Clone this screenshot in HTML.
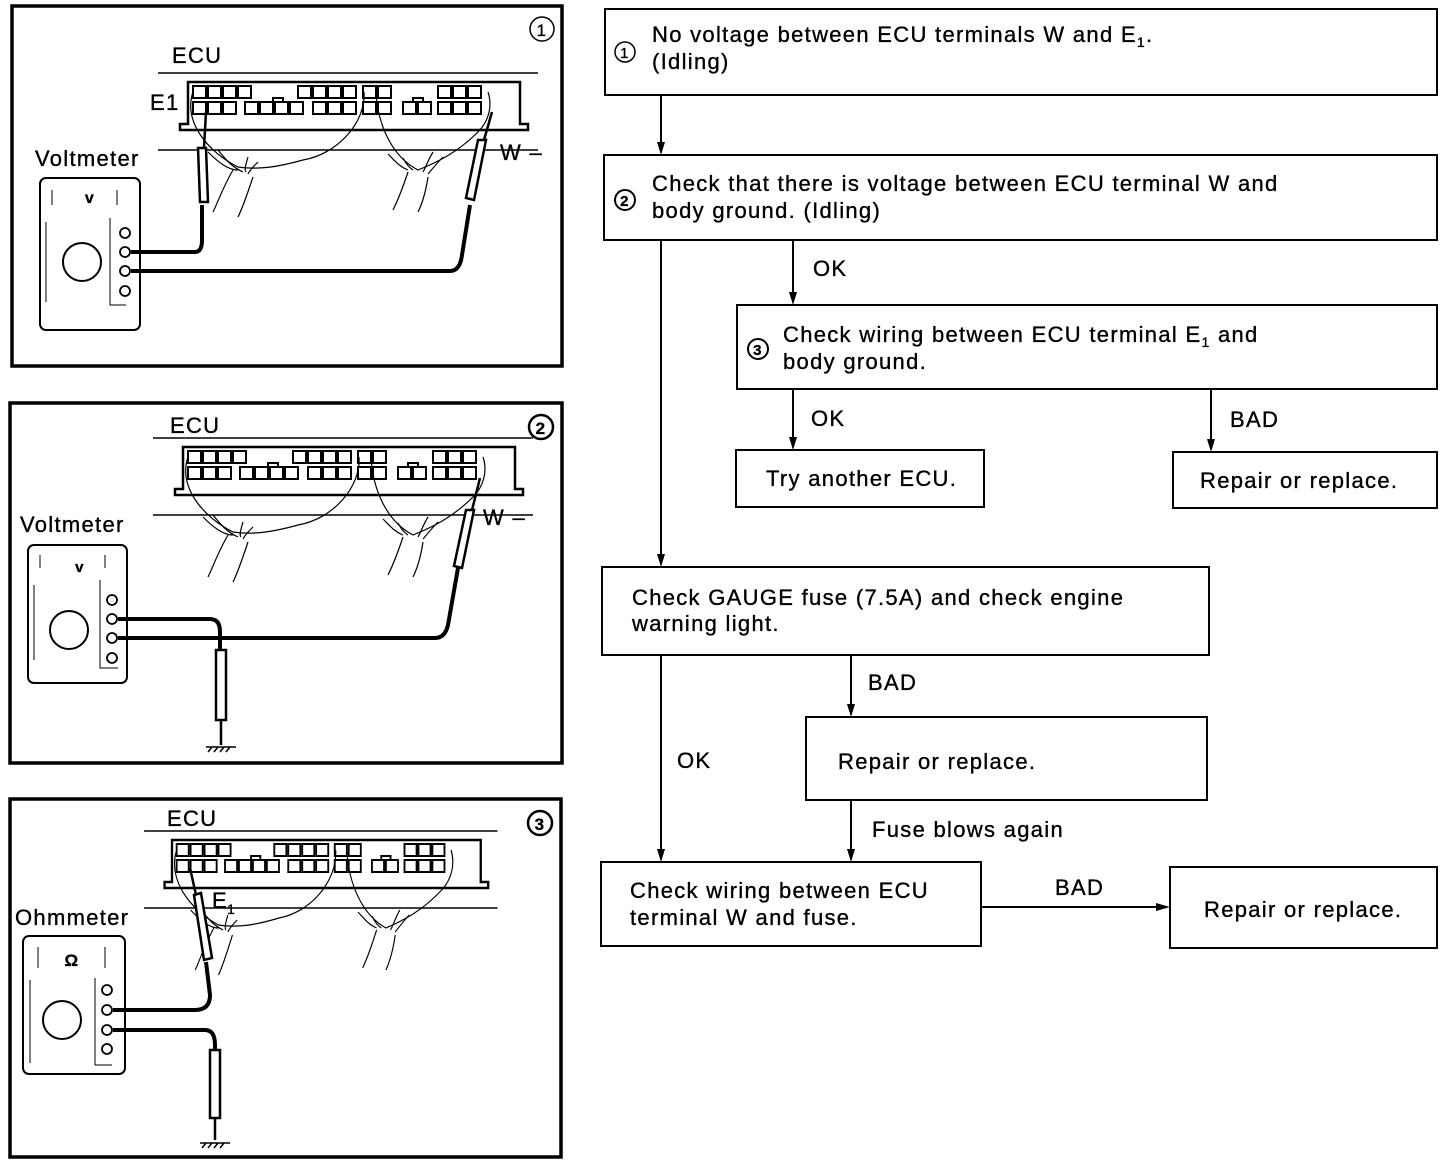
<!DOCTYPE html>
<html><head><meta charset="utf-8"><style>
html,body{margin:0;padding:0;background:#fff}
svg{display:block}
text{font-family:"Liberation Sans",sans-serif;fill:#000;letter-spacing:1.3px;stroke:#000;stroke-width:0.35px}
</style></head><body>
<svg width="1456" height="1164" viewBox="0 0 1456 1164" xmlns="http://www.w3.org/2000/svg">
<defs>
<g id="conn" fill="none" stroke="#000">
  <line x1="-30" y1="-9" x2="350" y2="-9" stroke-width="1.5"/>
  <line x1="-30" y1="68" x2="350" y2="68" stroke-width="1.5"/>
  <path d="M0 0 H332 V42 H340 V48 H-8 V42 H0 Z" stroke-width="2.5" fill="#fff"/>
  <g stroke-width="2">
    <rect x="5" y="4" width="13" height="12"/><rect x="20" y="4" width="13" height="12"/><rect x="35" y="4" width="13" height="12"/><rect x="50" y="4" width="13" height="12"/>
    <rect x="110" y="4" width="13" height="12"/><rect x="125" y="4" width="13" height="12"/><rect x="140" y="4" width="13" height="12"/><rect x="155" y="4" width="13" height="12"/>
    <rect x="175" y="4" width="13" height="12"/><rect x="190" y="4" width="13" height="12"/>
    <rect x="250" y="4" width="13" height="12"/><rect x="265" y="4" width="13" height="12"/><rect x="280" y="4" width="13" height="12"/>
    <rect x="5" y="20" width="13" height="12"/><rect x="20" y="20" width="13" height="12"/><rect x="35" y="20" width="13" height="12"/>
    <rect x="57" y="20" width="13" height="12"/><rect x="72" y="20" width="13" height="12"/><rect x="87" y="20" width="13" height="12"/><rect x="102" y="20" width="13" height="12"/>
    <rect x="125" y="20" width="13" height="12"/><rect x="140" y="20" width="13" height="12"/><rect x="155" y="20" width="13" height="12"/>
    <rect x="175" y="20" width="13" height="12"/><rect x="190" y="20" width="13" height="12"/>
    <rect x="215" y="20" width="13" height="12"/><rect x="230" y="20" width="13" height="12"/>
    <rect x="250" y="20" width="13" height="12"/><rect x="265" y="20" width="13" height="12"/><rect x="280" y="20" width="13" height="12"/>
    <path d="M85 20 V16 H95 V20 M225 20 V16 H235 V20"/>
  </g>
  <g stroke-width="1.2">
    <path d="M5 10 C-5 40 20 70 50 85 C70 88 90 85 115 78 C150 72 178 40 176 10"/>
    <path d="M188 10 C190 45 205 75 230 88 C250 80 270 70 290 50 C300 40 305 25 300 10"/>
    <path d="M20 70 C30 80 40 88 50 88 M30 68 C38 78 44 85 55 90 M60 75 C58 82 56 88 58 90 M70 80 C65 85 62 88 60 92"/>
    <path d="M200 72 C208 80 212 85 220 88 M215 76 C218 82 222 86 225 88 M245 70 C240 78 238 85 235 90 M255 75 C250 80 245 86 240 92"/>
    <path d="M45 88 C35 105 30 120 25 130 M65 95 C60 110 55 125 50 135"/>
    <path d="M220 90 C215 105 210 118 205 128 M240 95 C238 108 235 120 230 130"/>
  </g>
</g>
</defs>

<!-- Panel 1 -->
<rect x="12" y="6" width="550" height="360" fill="none" stroke="#000" stroke-width="3.5"/>
<circle cx="542" cy="29" r="12" fill="none" stroke="#000" stroke-width="1.5"/>
<text x="542" y="36" font-size="17" text-anchor="middle">1</text>
<text x="172" y="63" font-size="22">ECU</text>
<use href="#conn" transform="translate(188,82)"/>
<text x="150" y="110" font-size="22">E1</text>
<text x="500" y="160" font-size="22">W –</text>
<text x="35" y="166" font-size="22">Voltmeter</text>
<rect x="40" y="178" width="100" height="152" rx="6" fill="none" stroke="#000" stroke-width="2"/>
<path d="M52 190 V205 M117 190 V205 M46 222 V302 M110 218 V305 H126" fill="none" stroke="#000" stroke-width="1"/>
<text x="90" y="203" font-size="16" font-weight="bold" text-anchor="middle">v</text>
<circle cx="82" cy="262" r="19" fill="none" stroke="#000" stroke-width="2"/>
<g fill="none" stroke="#000" stroke-width="1.8"><circle cx="125" cy="233" r="5"/><circle cx="125" cy="252" r="5"/><circle cx="125" cy="271" r="5"/><circle cx="125" cy="291" r="5"/></g>
<path d="M131 252 H195 Q202 252 202 240 V205" fill="none" stroke="#000" stroke-width="4"/>
<path d="M131 271 H450 Q460 271 462 255 L470 205" fill="none" stroke="#000" stroke-width="4"/>
<path d="M198 148 L206 148 L208 202 L200 202 Z M204 148 L206 112" fill="#fff" stroke="#000" stroke-width="2.5"/>
<path d="M478 140 L486 140 L474 200 L466 198 Z M484 140 L492 112" fill="#fff" stroke="#000" stroke-width="2.5"/>

<!-- Panel 2 -->
<rect x="10" y="403" width="552" height="360" fill="none" stroke="#000" stroke-width="3.5"/>
<circle cx="541" cy="427" r="12" fill="none" stroke="#000" stroke-width="2.5"/>
<text x="541" y="434" font-size="17" font-weight="bold" text-anchor="middle">2</text>
<text x="170" y="433" font-size="22">ECU</text>
<use href="#conn" transform="translate(183,447)"/>
<text x="483" y="525" font-size="22">W –</text>
<text x="20" y="532" font-size="22">Voltmeter</text>
<rect x="28" y="545" width="99" height="138" rx="6" fill="none" stroke="#000" stroke-width="2"/>
<path d="M40 555 V568 M105 555 V568 M34 585 V660 M100 580 V668 H118" fill="none" stroke="#000" stroke-width="1"/>
<text x="80" y="572" font-size="15" font-weight="bold" text-anchor="middle">v</text>
<circle cx="69" cy="630" r="19" fill="none" stroke="#000" stroke-width="2"/>
<g fill="none" stroke="#000" stroke-width="1.8"><circle cx="112" cy="600" r="5"/><circle cx="112" cy="619" r="5"/><circle cx="112" cy="638" r="5"/><circle cx="112" cy="658" r="5"/></g>
<path d="M118 619 H210 Q220 619 220 632 V650" fill="none" stroke="#000" stroke-width="4"/>
<path d="M118 638 H435 Q445 638 448 625 L458 568" fill="none" stroke="#000" stroke-width="4"/>
<path d="M216 650 H226 V720 H216 Z M221 720 V745" fill="#fff" stroke="#000" stroke-width="2.5"/>
<path d="M206 747 H236 M208 752 L212 747 M214 752 L218 747 M220 752 L224 747 M226 752 L230 747" stroke="#000" stroke-width="1.5"/>
<path d="M466 510 L474 510 L462 568 L454 566 Z M472 510 L480 478" fill="#fff" stroke="#000" stroke-width="2.5"/>

<!-- Panel 3 -->
<rect x="10" y="799" width="551" height="358" fill="none" stroke="#000" stroke-width="3.5"/>
<circle cx="540" cy="823" r="12" fill="none" stroke="#000" stroke-width="2.5"/>
<text x="540" y="830" font-size="17" font-weight="bold" text-anchor="middle">3</text>
<text x="167" y="826" font-size="22">ECU</text>
<use href="#conn" transform="translate(172,840) scale(0.93,1)"/>
<text x="212" y="908" font-size="22">E</text><text x="227" y="914" font-size="14">1</text>
<text x="15" y="925" font-size="22">Ohmmeter</text>
<rect x="23" y="936" width="102" height="138" rx="6" fill="none" stroke="#000" stroke-width="2"/>
<path d="M38 947 V968 M105 947 V968 M30 980 V1063 M95 978 V1065 H112" fill="none" stroke="#000" stroke-width="1"/>
<text x="72" y="966" font-size="17" font-weight="bold" text-anchor="middle">Ω</text>
<circle cx="62" cy="1020" r="19" fill="none" stroke="#000" stroke-width="2"/>
<g fill="none" stroke="#000" stroke-width="1.8"><circle cx="107" cy="990" r="5"/><circle cx="107" cy="1010" r="5"/><circle cx="107" cy="1030" r="5"/><circle cx="107" cy="1049" r="5"/></g>
<path d="M113 1010 H195 Q210 1010 210 995 L206 962" fill="none" stroke="#000" stroke-width="4"/>
<path d="M113 1030 H205 Q215 1030 215 1045 V1050" fill="none" stroke="#000" stroke-width="4"/>
<path d="M194 895 L201 893 L212 958 L204 960 Z M196 895 L190 868" fill="#fff" stroke="#000" stroke-width="2.5"/>
<path d="M210 1050 H220 V1118 H210 Z M215 1118 V1140" fill="#fff" stroke="#000" stroke-width="2.5"/>
<path d="M200 1143 H230 M202 1148 L206 1143 M208 1148 L212 1143 M214 1148 L218 1143 M220 1148 L224 1143" stroke="#000" stroke-width="1.5"/>

<!-- Flowchart -->
<g fill="none" stroke="#000" stroke-width="2">
  <rect x="605" y="9" width="832" height="86"/>
  <rect x="604" y="155" width="833" height="85"/>
  <rect x="737" y="305" width="700" height="84"/>
  <rect x="736" y="450" width="248" height="57"/>
  <rect x="1173" y="452" width="264" height="56"/>
  <rect x="602" y="567" width="607" height="88"/>
  <rect x="806" y="717" width="401" height="83"/>
  <rect x="601" y="862" width="380" height="84"/>
  <rect x="1170" y="867" width="267" height="81"/>
  <path d="M661 95 V150 M793 240 V299 M793 389 V444 M1211 389 V446 M661 240 V561 M851 655 V711 M661 655 V856 M851 800 V856 M981 907 H1163"/>
</g>
<g fill="#000">
  <path d="M657 142 L661 155 L665 142 Z"/>
  <path d="M789 292 L793 305 L797 292 Z"/>
  <path d="M789 437 L793 450 L797 437 Z"/>
  <path d="M1207 439 L1211 452 L1215 439 Z"/>
  <path d="M657 554 L661 567 L665 554 Z"/>
  <path d="M847 704 L851 717 L855 704 Z"/>
  <path d="M657 849 L661 862 L665 849 Z"/>
  <path d="M847 849 L851 862 L855 849 Z"/>
  <path d="M1156 903 L1170 907 L1156 911 Z"/>
</g>
<g font-size="22">
  <circle cx="625" cy="52" r="10" fill="none" stroke="#000" stroke-width="1.5"/><text x="625" y="58" font-size="15" text-anchor="middle">1</text>
  <text x="652" y="42">No voltage between ECU terminals W and E<tspan font-size="14" dy="5">1</tspan><tspan dy="-5">.</tspan></text>
  <text x="652" y="69">(Idling)</text>
  <circle cx="625" cy="200" r="10" fill="none" stroke="#000" stroke-width="2"/><text x="625" y="206" font-size="15" font-weight="bold" text-anchor="middle">2</text>
  <text x="652" y="191">Check that there is voltage between ECU terminal W and</text>
  <text x="652" y="218">body ground. (Idling)</text>
  <text x="813" y="276">OK</text>
  <circle cx="758" cy="349" r="10" fill="none" stroke="#000" stroke-width="2"/><text x="758" y="355" font-size="15" font-weight="bold" text-anchor="middle">3</text>
  <text x="783" y="342">Check wiring between ECU terminal E<tspan font-size="14" dy="5">1</tspan><tspan dy="-5">  and</tspan></text>
  <text x="783" y="369">body ground.</text>
  <text x="811" y="426">OK</text>
  <text x="1230" y="427">BAD</text>
  <text x="766" y="486">Try another ECU.</text>
  <text x="1200" y="488">Repair or replace.</text>
  <text x="632" y="605">Check GAUGE fuse (7.5A) and check engine</text>
  <text x="632" y="631">warning light.</text>
  <text x="868" y="690">BAD</text>
  <text x="838" y="769">Repair or replace.</text>
  <text x="677" y="768">OK</text>
  <text x="872" y="837">Fuse blows again</text>
  <text x="630" y="898">Check wiring between ECU</text>
  <text x="630" y="925">terminal W and fuse.</text>
  <text x="1055" y="895">BAD</text>
  <text x="1204" y="917">Repair or replace.</text>
</g>
</svg>
</body></html>
